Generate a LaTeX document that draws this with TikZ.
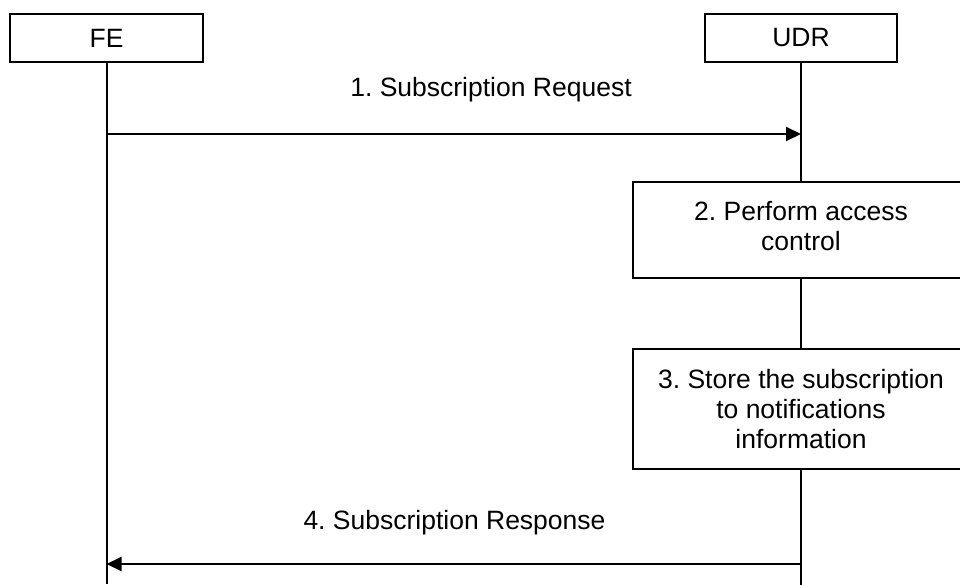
\documentclass[tikz,border=0pt]{standalone}
\usepackage{fontspec}
\setmainfont{Liberation Sans}
\usetikzlibrary{arrows.meta}
\begin{document}
\frenchspacing
\begin{tikzpicture}[x=1pt,y=-1pt,
  line width=2pt,
  every node/.style={font=\fontsize{26.5}{30}\selectfont\frenchspacing, inner sep=0pt},
  entity/.style={draw, line width=2pt, minimum height=48pt},
  actionbox/.style={draw, line width=2pt, minimum width=336pt, align=center},
  msg/.style={-{Triangle[length=15pt,width=14pt]}, line width=2pt},
  msglabel/.style={anchor=base}
]
\useasboundingbox (0,0) rectangle (960,585);
\fill[white] (0,0) rectangle (960,585);

\node[entity, minimum width=193pt] (fe) at (106.5,38) {FE};
\node[entity, minimum width=192pt] (udr) at (801,38) {UDR};

\node[actionbox, minimum height=96pt] (act2) at (801,230) {};
\node[align=center] (t2) at (801,226) {2. Perform access\\control};
\node[actionbox, minimum height=120pt] (act3) at (801,409) {3. Store the subscription\\to notifications\\information};

\coordinate (feend) at (106.5,584);
\coordinate (udrend) at (801,585);
\coordinate (y1) at (0,134);
\coordinate (y4) at (0,564);

\draw (fe.south) -- (feend);
\draw (udr.south) -- (act2.north);
\draw (act2.south) -- (act3.north);
\draw (act3.south) -- (udrend);

\draw[msg] (fe |- y1) -- (udr |- y1);
\draw[msg] (udr |- y4) -- (fe |- y4);

\node[msglabel] (l1) at (491,97) {1. Subscription Request};
\node[msglabel] (l4) at (454.5,529) {4. Subscription Response};
\end{tikzpicture}
\end{document}
